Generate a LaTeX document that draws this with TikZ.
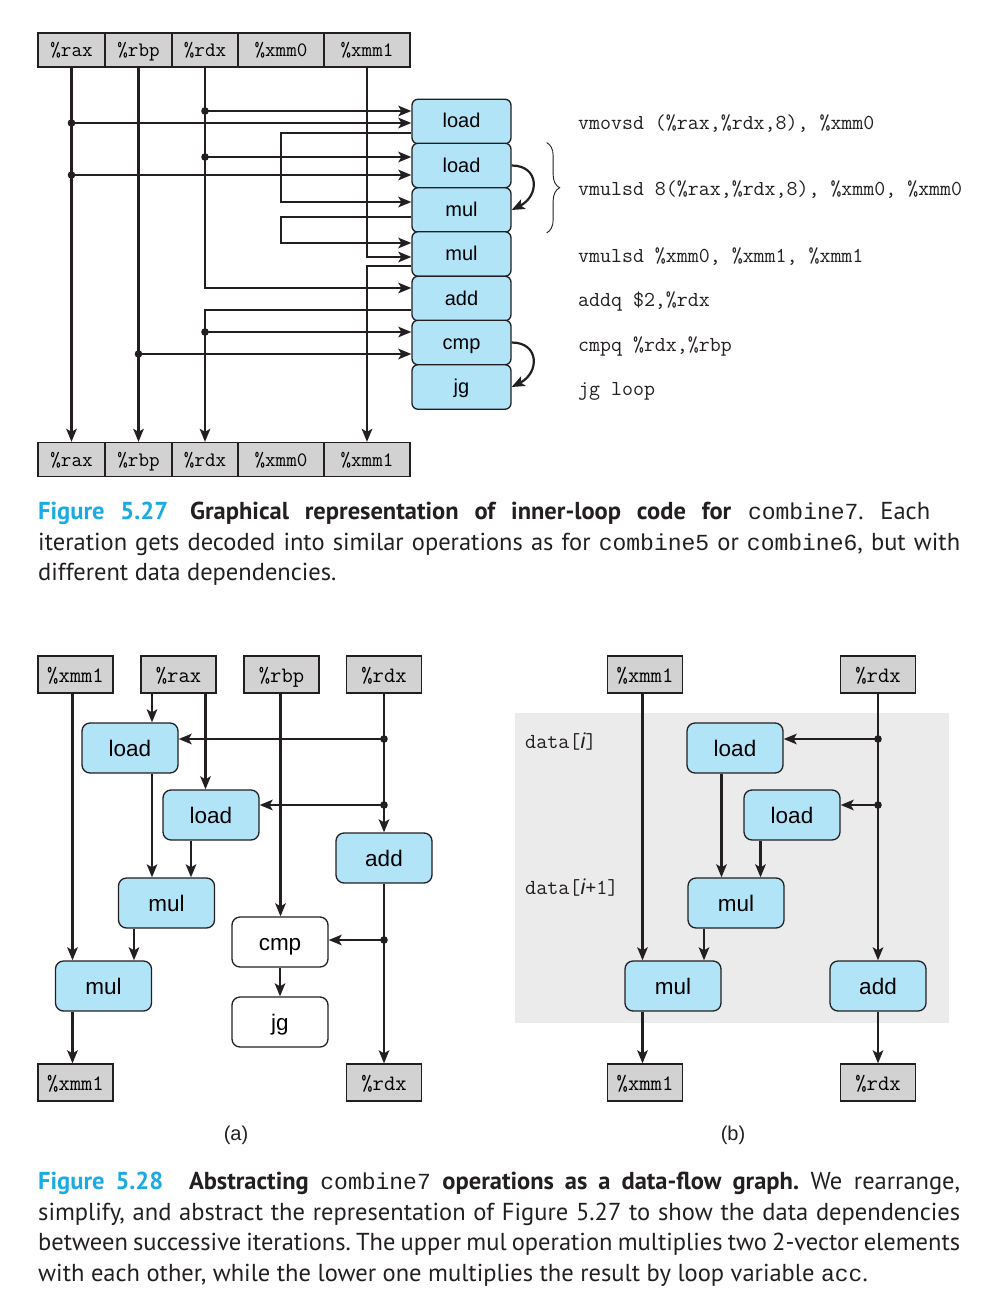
\documentclass[tikz,border=0pt]{standalone}
\usepackage{fontspec}
\usetikzlibrary{arrows.meta,decorations.pathreplacing}
\newfontfamily\helv{Liberation Sans}
\newfontfamily\capfont{PT Sans}
\newfontfamily\capmono{Liberation Mono}
\newcommand{\capcode}[1]{{\capmono\fontsize{23}{30.5}\selectfont #1}}
\definecolor{linec}{RGB}{35,31,32}
\definecolor{regfill}{RGB}{210,210,210}
\definecolor{opfill}{RGB}{178,228,248}
\definecolor{bgfill}{RGB}{235,235,235}
\definecolor{figcyan}{RGB}{28,170,226}
\tikzset{
    regcell/.style={draw=linec, fill=regfill, line width=1.3pt, minimum height=34pt, inner sep=0pt,
        text height=13.9pt, text depth=0pt, font=\ttfamily\fontsize{20.5}{20.5}\selectfont},
    regbig/.style={regcell, minimum width=75pt, minimum height=37pt, text height=15pt,
        font=\ttfamily\fontsize{22}{22}\selectfont},
    opbox/.style={draw=linec, fill=opfill, rounded corners=6pt, line width=1.3pt, minimum width=99pt,
        minimum height=44.5pt, inner sep=0pt, text height=13pt, text depth=0pt,
        font=\helv\fontsize{20}{20}\selectfont},
    opbig/.style={opbox, rounded corners=8pt, minimum width=96pt, minimum height=50pt, text height=16pt,
        font=\helv\fontsize{22.5}{22.5}\selectfont},
    flow/.style={draw=linec, line width=2.2pt, -{Stealth[length=13pt,width=10.5pt,inset=3pt]}},
    asmline/.style={anchor=base west, inner sep=0pt, text=linec, font=\ttfamily\fontsize{21.3}{21.3}\selectfont},
    datalab/.style={anchor=west, inner sep=0pt, text=linec, font=\ttfamily\fontsize{21.5}{21.5}\selectfont},
    sublab/.style={inner sep=0pt, text=linec, font=\helv\fontsize{20}{20}\selectfont},
    captext/.style={anchor=north west, inner sep=0pt, text width=922pt, align=justify, text=linec,
        font=\capfont\fontsize{24.5}{30.5}\selectfont\frenchspacing},
}
\begin{document}
\begin{tikzpicture}[x=1pt, y=-1pt]
    \useasboundingbox (0,0) rectangle (1003,1316);

    % Registers, top and bottom rows
    \foreach \nm/\lab/\cx/\cw in {rax/\%rax/71.5/67, rbp/\%rbp/138.5/67, rdx/\%rdx/205/66, xmmz/\%xmm0/281/86, xmmo/\%xmm1/367/86} {
        \node[regcell, minimum width=\cw] (t\nm) at (\cx,50) {\lab};
        \node[regcell, minimum width=\cw] (b\nm) at (\cx,459.5) {\lab};
    }

    % Operations stacked
    \foreach \nm/\lab/\cy in {ld1/load/121.5, ld2/load/165.5, mulA/mul/210, mulB/mul/254, add/add/298.5, cmp/cmp/342.5, jg/jg/387} {
        \node[opbox] (\nm) at (461.5,\cy) {\lab};
    }

    % Registers passing through
    \draw[flow] (trax) -- (brax);
    \draw[flow] (trbp) -- (brbp);
    \draw[flow] (trdx) |- ([yshift=10.5pt]add.west);
    \draw[flow] ([yshift=-11.5pt]add.west) -| (brdx);
    \draw[flow] (txmmo) |- ([yshift=-3pt]mulB.west);
    \draw[flow] ([yshift=-12pt]mulB.west) -| (bxmmo);

    % Branches into the loads and cmp
    \coordinate (ld1a) at ([yshift=10.5pt]ld1.west);
    \coordinate (ld1b) at ([yshift=-1.5pt]ld1.west);
    \coordinate (ld2a) at ([yshift=8.5pt]ld2.west);
    \coordinate (ld2b) at ([yshift=-9.5pt]ld2.west);
    \coordinate (cmpa) at ([yshift=10.5pt]cmp.west);
    \coordinate (cmpb) at ([yshift=-11.5pt]cmp.west);
    \draw[flow] (trdx |- ld1a) -- (ld1a);
    \draw[flow] (trax |- ld1b) -- (ld1b);
    \draw[flow] (trdx |- ld2a) -- (ld2a);
    \draw[flow] (trax |- ld2b) -- (ld2b);
    \draw[flow] (trdx |- cmpa) -- (cmpa);
    \draw[flow] (trbp |- cmpb) -- (cmpb);
    \fill[linec] (trdx |- ld1a) circle[radius=3.8pt] (trax |- ld1b) circle[radius=3.8pt]
        (trdx |- ld2a) circle[radius=3.8pt] (trax |- ld2b) circle[radius=3.8pt]
        (trdx |- cmpa) circle[radius=3.8pt] (trbp |- cmpb) circle[radius=3.8pt];

    % Results looping back
    \draw[flow] ([yshift=-11.5pt]ld1.west) -- ++(-130,0) |- ([yshift=8pt]mulA.west);
    \draw[flow] ([yshift=-7pt]mulA.west) -- ++(-130,0) |- ([yshift=11pt]mulB.west);
    \draw[flow] (ld2.east) .. controls +(28,0) and +(28,-14) .. (mulA.east);
    \draw[flow] (cmp.east) .. controls +(28,0) and +(28,-14) .. (jg.east);

    % Assembly code
    \draw[linec, line width=0.9pt, decorate, decoration={brace, amplitude=13pt}]
        ([xshift=35pt]ld2.north east) -- ([xshift=35pt]mulA.south east);
    \node[asmline] (c1) at (578,129.5) {vmovsd (\%rax,\%rdx,8), \%xmm0};
    \node[asmline] (c2) at (578,195.5) {vmulsd 8(\%rax,\%rdx,8), \%xmm0, \%xmm0};
    \node[asmline] (c3) at (578,262) {vmulsd \%xmm0, \%xmm1, \%xmm1};
    \node[asmline] (c4) at (578,306.5) {addq \$2,\%rdx};
    \node[asmline] (c5) at (578,351) {cmpq \%rdx,\%rbp};
    \node[asmline] (c6) at (578,395.5) {jg loop};

    \node[captext] (cap1) at (38,502) {\textbf{\textcolor{figcyan}{Figure 5.27}}\hspace{0.9em}\textbf{Graphical representation of inner-loop code for} \capcode{combine7}. Each\hspace*{30pt}\linebreak
        iteration gets decoded into similar operations as for \capcode{combine5} or \capcode{combine6}, but with\linebreak
        different data dependencies.};

    % (a) data-flow graph
    \node[regbig] (aXmm) at (75.5,674.5) {\%xmm1};
    \node[regbig] (aRax) at (178.5,674.5) {\%rax};
    \node[regbig] (aRbp) at (281.5,674.5) {\%rbp};
    \node[regbig] (aRdx) at (384,674.5) {\%rdx};
    \node[regbig] (aXmmOut) at (75.5,1082.5) {\%xmm1};
    \node[regbig] (aRdxOut) at (384,1082.5) {\%rdx};
    \node[opbig] (aLd1) at (130,748) {load};
    \node[opbig] (aLd2) at (211,815) {load};
    \node[opbig] (aMul1) at (166.5,903) {mul};
    \node[opbig] (aMul2) at (103.5,986) {mul};
    \node[opbig] (aAdd) at (384,858) {add};
    \node[opbig, fill=white] (aCmp) at (280,942) {cmp};
    \node[opbig, fill=white] (aJg) at (280,1022) {jg};

    \draw[flow] (aXmm.south -| 72.5,0) -- (aMul2.north -| 72.5,0);
    \draw[flow] (aMul2.south -| 72.5,0) -- (aXmmOut.north -| 72.5,0);
    \draw[flow] (aRax.south -| 152,0) -- (aLd1.north -| 152,0);
    \draw[flow] (aRax.south -| 205.5,0) -- (aLd2.north -| 205.5,0);
    \draw[flow] (aLd1.south -| 152,0) -- (aMul1.north -| 152,0);
    \draw[flow] (aLd2.south -| 191,0) -- (aMul1.north -| 191,0);
    \draw[flow] (aMul1.south -| 134,0) -- (aMul2.north -| 134,0);
    \draw[flow] (aRbp.south -| 280.5,0) -- (aCmp.north -| 280.5,0);
    \draw[flow] (aCmp) -- (aJg);
    \draw[flow] (aRdx) -- (aAdd);
    \draw[flow] (aAdd) -- (aRdxOut);
    \coordinate (aJ1) at ([yshift=9pt]aLd1.east);
    \coordinate (aJ2) at ([yshift=10pt]aLd2.east);
    \coordinate (aJ3) at ([yshift=2pt]aCmp.east);
    \draw[flow] (aRdx |- aJ1) -- (aJ1);
    \draw[flow] (aRdx |- aJ2) -- (aJ2);
    \draw[flow] (aRdx |- aJ3) -- (aJ3);
    \fill[linec] (aRdx |- aJ1) circle[radius=3.8pt] (aRdx |- aJ2) circle[radius=3.8pt]
        (aRdx |- aJ3) circle[radius=3.8pt];
    \node[sublab] (subA) at (236,1135) {(a)};

    % (b) one iteration shaded
    \fill[bgfill] (515,713) rectangle (949,1023);
    \node[regbig] (bXmm) at (645,674.5) {\%xmm1};
    \node[regbig] (bRdx) at (878,674.5) {\%rdx};
    \node[regbig] (bXmmOut) at (645,1082.5) {\%xmm1};
    \node[regbig] (bRdxOut) at (878,1082.5) {\%rdx};
    \node[opbig] (bLd1) at (735,748) {load};
    \node[opbig] (bLd2) at (792,815) {load};
    \node[opbig] (bMul1) at (736,903) {mul};
    \node[opbig] (bMul2) at (673,986) {mul};
    \node[opbig] (bAdd) at (878,986) {add};
    \node[datalab] (bData1) at (525,742) {data[{\helv\itshape i}]};
    \node[datalab] (bData2) at (525,888) {data[{\helv\itshape i}+1]};

    \draw[flow] (bXmm.south -| 642.5,0) -- (bMul2.north -| 642.5,0);
    \draw[flow] (bMul2.south -| 642.5,0) -- (bXmmOut.north -| 642.5,0);
    \draw[flow] (bLd1.south -| 721.5,0) -- (bMul1.north -| 721.5,0);
    \draw[flow] (bLd2.south -| 760.5,0) -- (bMul1.north -| 760.5,0);
    \draw[flow] (bMul1.south -| 704,0) -- (bMul2.north -| 704,0);
    \draw[flow] (bRdx) -- (bAdd);
    \draw[flow] (bAdd) -- (bRdxOut);
    \coordinate (bJ1) at ([yshift=9pt]bLd1.east);
    \coordinate (bJ2) at ([yshift=10pt]bLd2.east);
    \draw[flow] (bRdx |- bJ1) -- (bJ1);
    \draw[flow] (bRdx |- bJ2) -- (bJ2);
    \fill[linec] (bRdx |- bJ1) circle[radius=3.8pt] (bRdx |- bJ2) circle[radius=3.8pt];
    \node[sublab] (subB) at (733,1135) {(b)};

    \node[captext] (cap2) at (38,1172) {\textbf{\textcolor{figcyan}{Figure 5.28}}\hspace{1.05em}\textbf{Abstracting} \capcode{combine7} \textbf{operations as a data-flow graph.} We rearrange,\linebreak
        simplify, and abstract the representation of Figure 5.27 to show the data dependencies\linebreak
        between successive iterations. The upper mul operation multiplies two 2-vector elements\linebreak
        with each other, while the lower one multiplies the result by loop variable \capcode{acc}.};
\end{tikzpicture}
\end{document}
